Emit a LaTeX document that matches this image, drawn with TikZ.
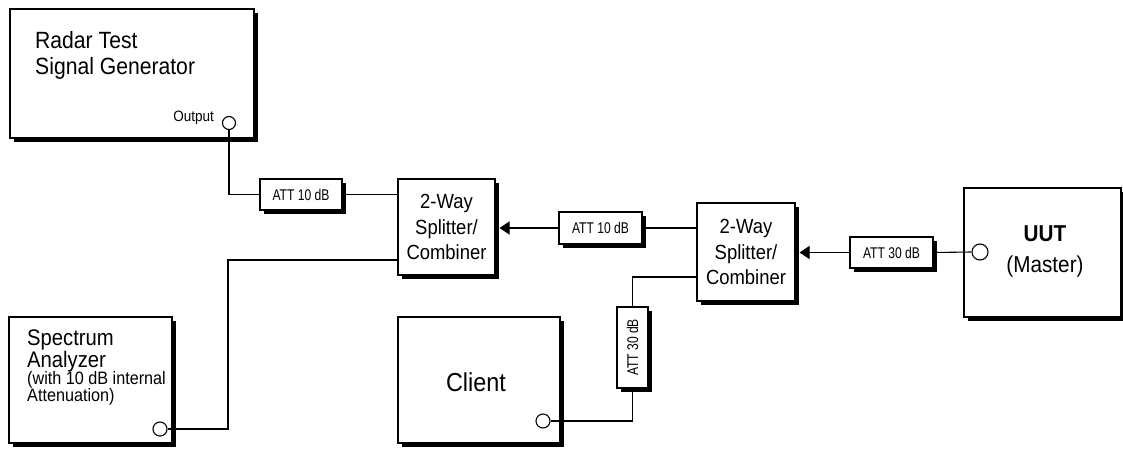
\documentclass[tikz,border=0pt]{standalone}
\usepackage{fontspec}
\setmainfont{Liberation Sans}[FakeStretch=0.9]
\newfontfamily\attfont{Liberation Sans}[FakeStretch=0.78]
\usetikzlibrary{arrows.meta,shadows}
\begin{document}
\begin{tikzpicture}[x=1pt,y=-1pt,
  box/.style={draw, fill=white, line width=1.1pt, inner sep=0pt,
    drop shadow={fill=black, opacity=1, shadow xshift=4pt, shadow yshift=-4pt}},
  attbox/.style={box, font=\attfont\fontsize{15.5}{15}\selectfont},
  port/.style={draw, fill=white, circle, line width=1.1pt, inner sep=0pt, minimum size=#1},
  conn/.style={line width=1.1pt},
  arr/.style={conn, -{Triangle[length=10pt,width=13pt]}},
  bigtxt/.style={align=left, inner sep=0pt}
]
\useasboundingbox (0,0) rectangle (1123,449);

% boxes
\node[box, minimum width=244pt, minimum height=129pt] (radar) at (132,73.5) {};
\node[box, minimum width=163pt, minimum height=126pt] (spec) at (90.5,380) {};
\node[box, minimum width=162pt, minimum height=126pt] (client) at (479,380) {};
\node[box, minimum width=157pt, minimum height=129pt] (uut) at (1042.5,252.5) {};
\node[box, minimum width=97pt, minimum height=96pt, align=center,
      font=\fontsize{20.5}{25.5}\selectfont] (split1) at (446.5,227) {2-Way\\Splitter/\\Combiner};
\node[box, minimum width=98pt, minimum height=98pt, align=center,
      font=\fontsize{20.5}{25.5}\selectfont] (split2) at (746,252) {2-Way\\Splitter/\\Combiner};

% attenuators
\node[attbox, minimum width=82pt, minimum height=31pt] (att1) at (301,194.5) {ATT 10 dB};
\node[attbox, minimum width=83pt, minimum height=32pt] (att2) at (600.5,228) {ATT 10 dB};
\node[attbox, minimum width=83pt, minimum height=31pt] (att4) at (891.5,252.5) {ATT 30 dB};
\node[box, minimum width=31pt, minimum height=81pt] (att3) at (632.5,347.5) {};
\node[rotate=90, inner sep=0pt, font=\attfont\fontsize{15.5}{15}\selectfont] (att3t) at (att3.center) {ATT 30 dB};

% texts
\node[bigtxt, anchor=west, font=\fontsize{23.5}{26}\selectfont] (radart) at (35,55) {Radar Test\\Signal Generator};
\node[inner sep=0pt, anchor=east, font=\fontsize{15}{15}\selectfont] (outt) at (214,118) {Output};
\node[align=center, inner sep=0pt, font=\fontsize{23}{31}\selectfont] (uutt) at (1045,251) {\textbf{UUT}\\(Master)};
\node[bigtxt, anchor=west, font=\fontsize{22.5}{22}\selectfont] (specA) at (27,351) {Spectrum\\Analyzer};
\node[bigtxt, anchor=west, font=\fontsize{18}{17}\selectfont] (specB) at (27,388.5) {(with 10 dB internal\\Attenuation)};
\node[inner sep=0pt, font=\fontsize{26}{26}\selectfont] (clientt) at (476,382) {Client};

% ports
\node[port=13pt] (out) at (229,123) {};
\node[port=14pt] (specport) at (160,429) {};
\node[port=14pt] (clientport) at (543,421) {};
\node[port=16pt] (uutport) at (980,252) {};

% connectors
\coordinate (c1) at (228,260);
\coordinate (c2) at (632.5,277);
\draw[conn] (out.south) |- (att1.west);
\draw[conn] (att1.east) -- (att1.east -| split1.west);
\draw[conn] (specport.east) -| (c1) -- (c1 -| split1.west);
\draw[arr] (att2.west) -- ([xshift=4pt]att2.west -| split1.east);
\draw[conn] (att2.east -| split2.west) -- (att2.east);
\draw[conn] (c2 -| split2.west) -- (c2) -- (att3.north);
\draw[conn] (att3.south) |- (clientport.east);
\draw[arr] (att4.west) -- ([xshift=4pt]att4.west -| split2.east);
\draw[conn] (att4.east) -- (uutport.west);
\end{tikzpicture}
\end{document}
